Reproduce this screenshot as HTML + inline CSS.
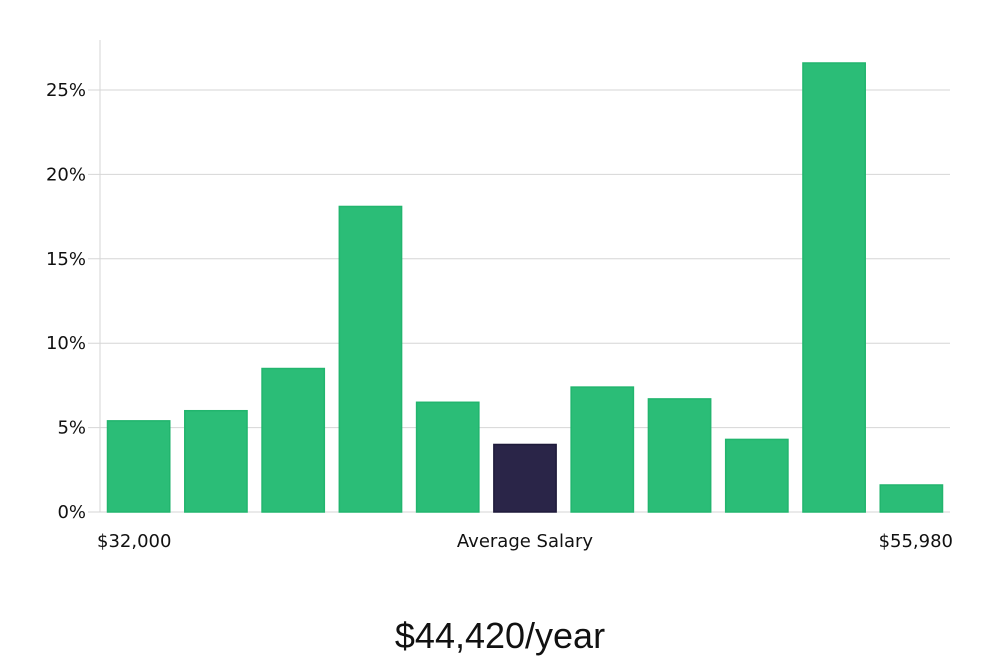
<!DOCTYPE html>
<html><head><meta charset="utf-8"><style>
html,body{margin:0;padding:0;background:#fff;}
svg text{font-family:"DejaVu Sans","Liberation Sans",sans-serif;fill:#111;}
</style></head><body>
<svg id="chart" width="1000" height="660" viewBox="0 0 1000 660" xmlns="http://www.w3.org/2000/svg">
<g id="grid"></g><g id="bars"></g><g id="axes"></g>
<text x="97" y="547" font-size="18">$32,000</text>
<text x="525" y="547" font-size="18" text-anchor="middle">Average Salary</text>
<text x="953" y="547" font-size="18" text-anchor="end">$55,980</text>
<text x="500" y="648" font-size="36" text-anchor="middle" style="font-family:'Liberation Sans',sans-serif;font-weight:300">$44,420/year</text>
</svg>
<script>
const values=[5.4,6.0,8.5,18.1,6.5,4.0,7.4,6.7,4.3,26.6,1.6];
const highlightIndex=5;
const yTicks=[0,5,10,15,20,25];
const yTickLabels=["0%","5%","10%","15%","20%","25%"];
const NS="http://www.w3.org/2000/svg";
const x0=100,x1=950,yBase=512,pxPer=84.4/5;
const y=v=>yBase-v*pxPer;
const slot=(x1-x0)/values.length;
const grid=document.getElementById('grid'),bars=document.getElementById('bars'),axes=document.getElementById('axes');
function mk(tag,attrs,parent){const e=document.createElementNS(NS,tag);for(const k in attrs)e.setAttribute(k,attrs[k]);parent.appendChild(e);return e;}
yTicks.forEach((t,i)=>{
  const l=mk('line',{x1:88,x2:x1,y1:y(t),y2:y(t),stroke:'#d6d6d6','stroke-width':1},grid);
  
  
  const tx=mk('text',{x:86,y:y(t)+6,'font-size':18,'text-anchor':'end'},axes);
  tx.textContent=yTickLabels[i];
  
  
});
const ax=mk('line',{x1:x0,x2:x0,y1:40,y2:yBase,stroke:'#d6d6d6','stroke-width':1},axes);


values.forEach((v,i)=>{
  const hi=i===highlightIndex;
  const r=mk('rect',{x:x0+i*slot+7.5,y:y(v),width:slot-15,height:yBase-y(v),fill:hi?'#2a2548':'#2bbd77',stroke:hi?'#1e1a3a':'#22b56e','stroke-width':1.5},bars);
  
  
});
</script>
</body></html>
